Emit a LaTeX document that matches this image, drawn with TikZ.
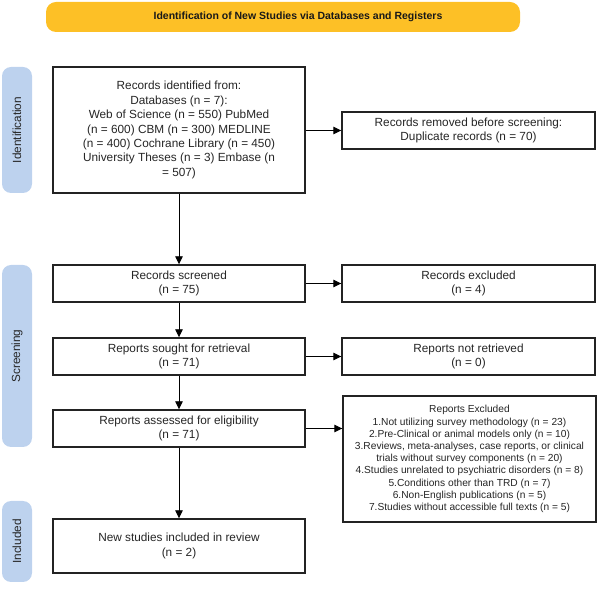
\documentclass[tikz,border=0pt]{standalone}
\usepackage{fontspec}
\setmainfont{Liberation Sans}
\usetikzlibrary{arrows.meta}
\definecolor{titleyellow}{RGB}{253,192,38}
\definecolor{sideblue}{RGB}{189,210,238}
\definecolor{boxline}{RGB}{35,35,35}
\begin{document}
\begin{tikzpicture}[x=1pt,y=-1pt,
  box/.style={draw=boxline,line width=1.4pt,fill=white,rectangle,inner sep=0pt,align=center,
    font=\fontsize{11.8}{14.4}\selectfont,text=black!85},
  side/.style={fill=sideblue,rounded corners=9pt,inner sep=0pt,minimum width=30pt},
  sidetext/.style={rotate=90,font=\fontsize{11.8}{14}\selectfont,text=black!85},
  arr/.style={draw=black,line width=0.9pt,-{Triangle[length=8pt,width=7.5pt]}}
]
\useasboundingbox (0,0) rectangle (598,593);
% title
\node[fill=titleyellow,rounded corners=10pt,minimum width=474pt,minimum height=30pt,inner sep=0pt] (title) at (283,17) {};
\node[font=\bfseries\fontsize{10.5}{12}\selectfont,text=black!90] (titletext) at (298,17) {Identification of New Studies via Databases and Registers};
% side labels
\node[side,minimum height=126pt] (idlabel) at (17,130) {};
\node[sidetext] (idtext) at (idlabel.center) {Identification};
\node[side,minimum height=182pt] (scrlabel) at (17,356) {};
\node[sidetext] (scrtext) at (scrlabel.center) {Screening};
\node[side,minimum height=81pt] (inclabel) at (17,541.5) {};
\node[sidetext] (inctext) at (inclabel.center) {Included};
% main column
\node[box,minimum width=252pt,minimum height=126pt] (recid) at (179,130)
  {Records identified from:\\Databases (n = 7):\\Web of Science (n = 550) PubMed\\(n = 600) CBM (n = 300) MEDLINE\\(n = 400) Cochrane Library (n = 450)\\University Theses (n = 3) Embase (n\\= 507)};
\node[box,minimum width=252pt,minimum height=37pt] (screened) at (179,283.5) {Records screened\\(n = 75)};
\node[box,minimum width=252pt,minimum height=37pt] (sought) at (179,356.5) {Reports sought for retrieval\\(n = 71)};
\node[box,minimum width=252pt,minimum height=37pt] (assessed) at (179,428.5) {Reports assessed for eligibility\\(n = 71)};
\node[box,minimum width=252pt,minimum height=54pt] (newst) at (179,546) {New studies included in review\\(n = 2)};
% right column
\node[box,minimum width=253pt,minimum height=37pt] (dup) at (468.5,130.5) {Records removed before screening:\\Duplicate records (n = 70)};
\node[box,minimum width=253pt,minimum height=37pt] (excl) at (468.5,283.5) {Records excluded\\(n = 4)};
\node[box,minimum width=253pt,minimum height=37pt] (notret) at (468.5,356.5) {Reports not retrieved\\(n = 0)};
\node[box,minimum width=253pt,minimum height=126pt,font=\fontsize{10.2}{12.2}\selectfont] (repexcl) at (469.5,459)
  {Reports Excluded\\1.Not utilizing survey methodology (n = 23)\\2.Pre-Clinical or animal models only (n = 10)\\3.Reviews, meta-analyses, case reports, or clinical\\trials without survey components (n = 20)\\4.Studies unrelated to psychiatric disorders (n = 8)\\5.Conditions other than TRD (n = 7)\\6.Non-English publications (n = 5)\\7.Studies without accessible full texts (n = 5)};
% arrows
\draw[arr] (recid) -- (screened);
\draw[arr] (screened) -- (sought);
\draw[arr] (sought) -- (assessed);
\draw[arr] (assessed) -- (newst);
\draw[arr] (recid.east |- dup.west) -- (dup.west);
\draw[arr] (screened) -- (excl);
\draw[arr] (sought) -- (notret);
\draw[arr] (assessed.east) -- (assessed.east -| repexcl.west);
\end{tikzpicture}
\end{document}
